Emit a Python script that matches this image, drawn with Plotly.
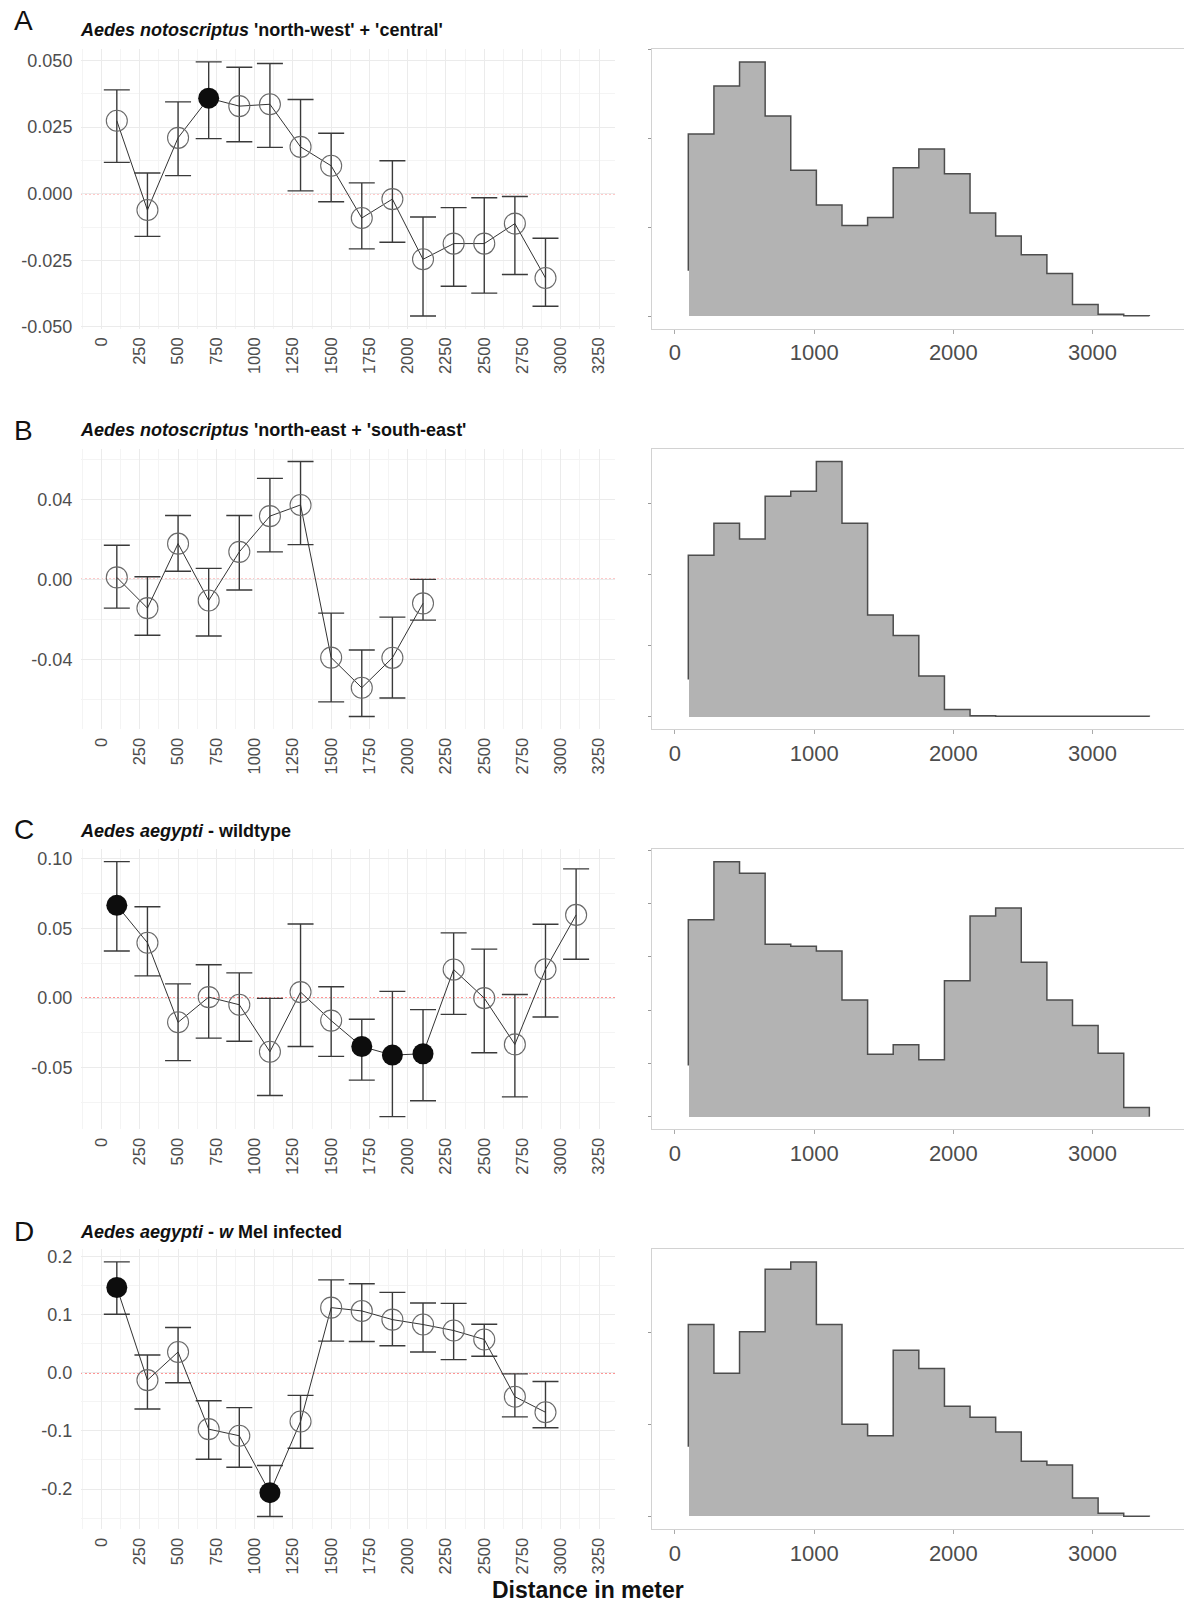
import plotly.graph_objects as go

# ---------------------------------------------------------------------------
# Spatial autocorrelation (r) per distance class, with 95% confidence bounds
# ---------------------------------------------------------------------------
distance_a = [100, 300, 500, 700, 900, 1100, 1300, 1500, 1700, 1900, 2100, 2300, 2500, 2700, 2900]
r_a = [0.0274, -0.0061, 0.0210, 0.0359, 0.0329, 0.0336, 0.0176, 0.0105, -0.0091, -0.0020,
       -0.0246, -0.0187, -0.0187, -0.0112, -0.0316]
upper_a = [0.0390, 0.0078, 0.0345, 0.0495, 0.0475, 0.0489, 0.0354, 0.0227, 0.0041, 0.0124,
           -0.0087, -0.0052, -0.0015, -0.0010, -0.0167]
lower_a = [0.0118, -0.0160, 0.0068, 0.0207, 0.0195, 0.0174, 0.0011, -0.0030, -0.0207, -0.0182,
           -0.0459, -0.0347, -0.0373, -0.0303, -0.0422]
signif_a = [False, False, False, True, False, False, False, False, False, False,
            False, False, False, False, False]

distance_b = [100, 300, 500, 700, 900, 1100, 1300, 1500, 1700, 1900, 2100]
r_b = [0.0010, -0.0144, 0.0179, -0.0106, 0.0138, 0.0317, 0.0373, -0.0392, -0.0543, -0.0393, -0.0120]
upper_b = [0.0171, 0.0013, 0.0320, 0.0055, 0.0320, 0.0506, 0.0591, -0.0169, -0.0354, -0.0189, 0.0000]
lower_b = [-0.0144, -0.0280, 0.0041, -0.0284, -0.0053, 0.0138, 0.0174, -0.0614, -0.0687, -0.0594, -0.0204]
signif_b = [False] * 11

distance_c = [100, 300, 500, 700, 900, 1100, 1300, 1500, 1700, 1900, 2100, 2300, 2500, 2700, 2900, 3100]
r_c = [0.0667, 0.0398, -0.0174, 0.0007, -0.0048, -0.0386, 0.0043, -0.0162, -0.0348, -0.0410,
       -0.0400, 0.0205, 0.0000, -0.0333, 0.0207, 0.0598]
upper_c = [0.0981, 0.0657, 0.0102, 0.0240, 0.0181, -0.0002, 0.0533, 0.0081, -0.0152, 0.0048,
           -0.0083, 0.0469, 0.0352, 0.0026, 0.0531, 0.0929]
lower_c = [0.0338, 0.0160, -0.0450, -0.0288, -0.0310, -0.0700, -0.0348, -0.0419, -0.0590, -0.0852,
           -0.0738, -0.0117, -0.0393, -0.0710, -0.0136, 0.0279]
signif_c = [True, False, False, False, False, False, False, False, True, True,
            True, False, False, False, False, False]

distance_d = [100, 300, 500, 700, 900, 1100, 1300, 1500, 1700, 1900, 2100, 2300, 2500, 2700, 2900]
r_d = [0.147, -0.0125, 0.0359, -0.0969, -0.1083, -0.2063, -0.0838, 0.1123, 0.1066, 0.0917,
       0.0832, 0.0729, 0.0575, -0.0410, -0.0678]
upper_d = [0.191, 0.0308, 0.0781, -0.0479, -0.0598, -0.1595, -0.0387, 0.1601, 0.1533, 0.1385,
           0.1202, 0.1197, 0.0838, -0.0017, -0.0148]
lower_d = [0.101, -0.0621, -0.0171, -0.1487, -0.1624, -0.2473, -0.1299, 0.0547, 0.0541, 0.0467,
           0.0359, 0.0228, 0.0285, -0.0758, -0.0946]
signif_d = [True, False, False, False, False, True, False, False, False, False,
            False, False, False, False, False]

# ---------------------------------------------------------------------------
# Pairwise-distance frequency (histogram counts over 18 equal bins)
# ---------------------------------------------------------------------------
bin_start = 96
bin_width = 184
pairs_a = [205, 259, 286, 225, 164, 125, 102, 111, 167, 188, 160, 116, 90, 69, 48, 13, 2, 0.3]
pairs_b = [227, 272, 250, 310, 317, 359, 272, 143, 114, 57, 9.8, 1, 0.4, 0.3, 0.3, 0.3, 0.3, 0.3]
pairs_c = [370, 479, 457, 324, 320, 311, 219, 117, 135, 107, 255, 377, 392, 290, 219, 171, 119, 17]
pairs_d = [209, 156, 201, 269, 277, 209, 100.5, 88, 181, 161, 120, 108, 92, 60, 56, 20, 3.6, 0.3]
outline_start = [51, 52, 96, 76]

# Tick labels (hyphen-minus as in the printed figure)
yticks_a = [-0.05, -0.025, 0.0, 0.025, 0.05]
ylabels_a = ["-0.050", "-0.025", "0.000", "0.025", "0.050"]
yticks_b = [-0.04, 0.0, 0.04]
ylabels_b = ["-0.04", "0.00", "0.04"]
yticks_c = [-0.05, 0.0, 0.05, 0.10]
ylabels_c = ["-0.05", "0.00", "0.05", "0.10"]
yticks_d = [-0.2, -0.1, 0.0, 0.1, 0.2]
ylabels_d = ["-0.2", "-0.1", "0.0", "0.1", "0.2"]

letters = ["A", "B", "C", "D"]
titles = [
    "<b><i>Aedes notoscriptus</i> 'north-west' + 'central'</b>",
    "<b><i>Aedes notoscriptus</i> 'north-east + 'south-east'</b>",
    "<b><i>Aedes aegypti</i> - wildtype</b>",
    "<b><i>Aedes aegypti</i> - <i>w</i> Mel infected</b>",
]
x_title = "<b>Distance in meter</b>"

panels = [
    dict(d=distance_a, r=r_a, up=upper_a, lo=lower_a, sig=signif_a, hist=pairs_a,
         yt=yticks_a, yl=ylabels_a, minor=0.0125),
    dict(d=distance_b, r=r_b, up=upper_b, lo=lower_b, sig=signif_b, hist=pairs_b,
         yt=yticks_b, yl=ylabels_b, minor=0.02),
    dict(d=distance_c, r=r_c, up=upper_c, lo=lower_c, sig=signif_c, hist=pairs_c,
         yt=yticks_c, yl=ylabels_c, minor=0.025),
    dict(d=distance_d, r=r_d, up=upper_d, lo=lower_d, sig=signif_d, hist=pairs_d,
         yt=yticks_d, yl=ylabels_d, minor=0.05),
]

# ---------------------------------------------------------------------------
# Page geometry (pixels)
# ---------------------------------------------------------------------------
W, H = 1184, 1606
ROWS = [(47.5, 328.8), (449.5, 731.8), (852.2, 1134.4), (1255.0, 1536.8)]
LETTER_Y = [19, 431, 833, 1237]
TITLE_Y = [28, 431, 834, 1238]
LEFT_X = (81, 615)
RIGHT_X = (651.7, 1184)

SANS = "Liberation Sans, Arial, Helvetica, sans-serif"
TICK_COLOR = "#4d4d4d"
GRID = "#ebebeb"
GRID_MINOR = "#f4f4f4"


def xdom(a, b):
    return [a / W, min(b / W, 1.0)]


def ydom(top, bottom):
    return [1 - bottom / H, 1 - top / H]


def axis_ids(n):
    """Trace reference and layout key for axis number n (1-based)."""
    suffix = "" if n == 1 else str(n)
    return "x" + suffix, "y" + suffix, "xaxis" + suffix, "yaxis" + suffix


fig = go.Figure()
layout = {}
shapes = []
annotations = []

for i, p in enumerate(panels):
    lx, ly, lxk, lyk = axis_ids(2 * i + 1)
    rx, ry, rxk, ryk = axis_ids(2 * i + 2)
    top, bottom = ROWS[i]

    # connecting line + confidence intervals
    fig.add_trace(go.Scatter(
        x=p["d"], y=p["r"], mode="lines",
        line=dict(color="#333333", width=1),
        error_y=dict(type="data", symmetric=False,
                     array=[u - m for u, m in zip(p["up"], p["r"])],
                     arrayminus=[m - l for m, l in zip(p["r"], p["lo"])],
                     color="#3a3a3a", thickness=1.4, width=13),
        xaxis=lx, yaxis=ly, showlegend=False, hoverinfo="skip"))

    # non-significant classes: open circles
    fig.add_trace(go.Scatter(
        x=[d for d, s in zip(p["d"], p["sig"]) if not s],
        y=[v for v, s in zip(p["r"], p["sig"]) if not s],
        mode="markers",
        marker=dict(symbol="circle-open", size=21, color="#6a6a6a",
                    line=dict(width=1.1, color="#6a6a6a")),
        xaxis=lx, yaxis=ly, showlegend=False))

    # significant classes: filled circles
    fig.add_trace(go.Scatter(
        x=[d for d, s in zip(p["d"], p["sig"]) if s],
        y=[v for v, s in zip(p["r"], p["sig"]) if s],
        mode="markers",
        marker=dict(symbol="circle", size=21, color="#0d0d0d", line=dict(width=0)),
        xaxis=lx, yaxis=ly, showlegend=False))

    lo_all, hi_all = min(p["lo"]), max(p["up"])
    pad = 0.05 * (hi_all - lo_all)

    layout[lxk] = dict(
        domain=xdom(*LEFT_X), anchor=ly, range=[-134, 3354],
        tickmode="linear", tick0=0, dtick=250, tickangle=-90,
        showgrid=True, gridcolor=GRID, gridwidth=1,
        minor=dict(tick0=0, dtick=125, showgrid=True, gridcolor=GRID_MINOR, gridwidth=1),
        zeroline=False, showline=False, ticks="outside", ticklen=1,
        tickcolor="rgba(0,0,0,0)",
        tickfont=dict(family=SANS, size=16.5, color=TICK_COLOR))
    layout[lyk] = dict(
        domain=ydom(top, bottom), anchor=lx, range=[lo_all - pad, hi_all + pad],
        tickmode="array", tickvals=p["yt"], ticktext=p["yl"],
        showgrid=True, gridcolor=GRID, gridwidth=1,
        minor=dict(tick0=0, dtick=p["minor"], showgrid=True, gridcolor=GRID_MINOR, gridwidth=1),
        zeroline=False, showline=False, ticks="outside", ticklen=4, tickcolor="rgba(0,0,0,0)",
        tickfont=dict(family=SANS, size=18, color=TICK_COLOR))

    # zero reference line (red, dotted)
    shapes.append(dict(type="line", xref=f"{lx} domain", yref=ly, x0=0, x1=1, y0=0, y1=0,
                       line=dict(color="#ff2a2a", width=1.2, dash="2px,2px"),
                       layer="below"))

    # histogram of pairwise distances
    edges = [bin_start + k * bin_width for k in range(len(p["hist"]) + 1)]
    centers = [(a + b) / 2 for a, b in zip(edges[:-1], edges[1:])]
    fig.add_trace(go.Bar(
        x=centers, y=p["hist"], width=bin_width,
        marker=dict(color="#b3b3b3", line=dict(width=0)),
        xaxis=rx, yaxis=ry, showlegend=False))
    step_x = [edges[0]] + edges[:-1] + [edges[-1], edges[-1]]
    step_y = [outline_start[i]] + p["hist"] + [p["hist"][-1], 0]
    fig.add_trace(go.Scatter(
        x=step_x, y=step_y, mode="lines",
        line=dict(shape="hv", color="#4d4d4d", width=1.5),
        xaxis=rx, yaxis=ry, showlegend=False, hoverinfo="skip"))

    hmax = max(p["hist"])
    layout[rxk] = dict(
        domain=xdom(*RIGHT_X), anchor=ry, range=[-167, 3657],
        tickmode="array", tickvals=[0, 1000, 2000, 3000],
        ticks="outside", ticklen=4, tickcolor="#aaaaaa",
        showline=True, linecolor="#d2d2d2", linewidth=1, mirror=True,
        showgrid=False, zeroline=False,
        tickfont=dict(family=SANS, size=22, color=TICK_COLOR))
    layout[ryk] = dict(
        domain=ydom(top, bottom), anchor=rx, range=[-0.05 * hmax, 1.05 * hmax],
        tickmode="linear", tick0=0, dtick=100,
        ticks="outside", ticklen=3, tickcolor="#999999", showticklabels=False,
        showline=True, linecolor="#d2d2d2", linewidth=1,
        showgrid=False, zeroline=False)

    annotations.append(dict(text=letters[i], x=12 / W, y=1 - LETTER_Y[i] / H,
                            xref="paper", yref="paper", xanchor="left", yanchor="middle",
                            showarrow=False, font=dict(family=SANS, size=28, color="#111111")))
    annotations.append(dict(text=titles[i], x=78 / W, y=1 - TITLE_Y[i] / H,
                            xref="paper", yref="paper", xanchor="left", yanchor="middle",
                            showarrow=False, font=dict(family=SANS, size=18, color="#111111")))

# shared x-axis title under the bottom row
annotations.append(dict(text=x_title, x=588 / W, y=1 - 1583 / H, xref="paper", yref="paper",
                        xanchor="center", yanchor="top", showarrow=False,
                        font=dict(family=SANS, size=23, color="#111111")))

fig.update_layout(
    width=W, height=H, margin=dict(l=0, r=0, t=0, b=0),
    paper_bgcolor="white", plot_bgcolor="white",
    bargap=0, showlegend=False,
    shapes=shapes, annotations=annotations,
    **layout)

# page body without default margins so the figure fills the window exactly
fig.write_html("out.html", post_script="document.body.style.margin='0';")
